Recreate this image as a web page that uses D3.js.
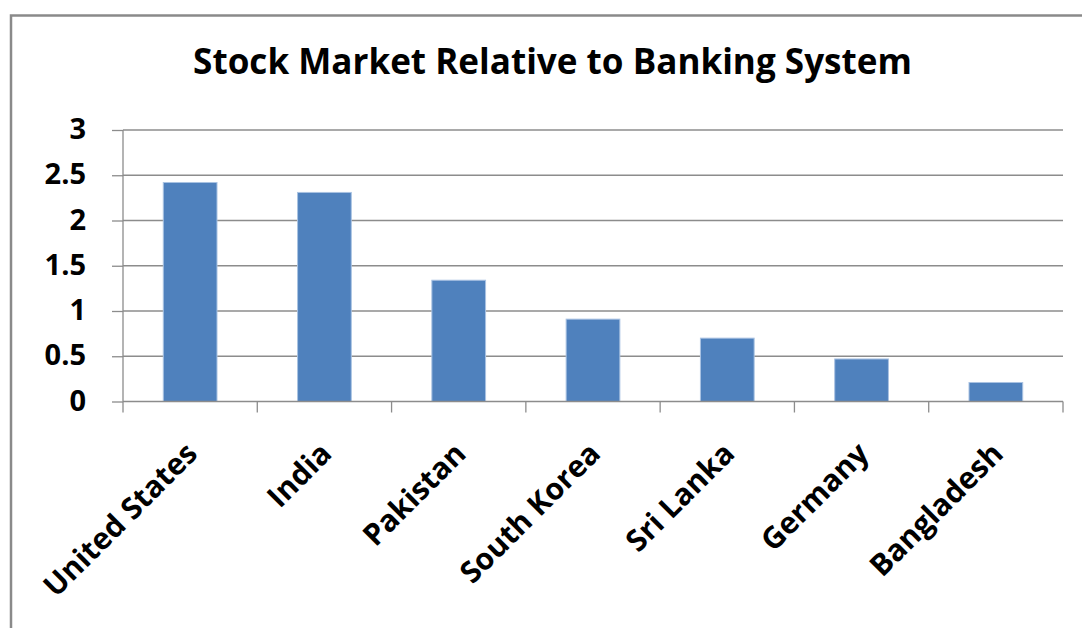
<!DOCTYPE html>
<html>
<head>
<meta charset="utf-8">
<script src="https://cdn.jsdelivr.net/npm/d3@7"></script>
<style>
  html, body { margin: 0; padding: 0; background: #fff; }
  svg { display: block; }
  text { font-family: "Open Sans", "DejaVu Sans", sans-serif; font-weight: bold; fill: #000; }
</style>
</head>
<body>
<svg id="chart" width="1082" height="628"></svg>
<script>
const title = "Stock Market Relative to Banking System";
const categories = ["United States", "India", "Pakistan", "South Korea", "Sri Lanka", "Germany", "Bangladesh"];
const values = [2.42, 2.31, 1.34, 0.91, 0.70, 0.47, 0.21];
const yTicks = [0, 0.5, 1, 1.5, 2, 2.5, 3];

const svg = d3.select("#chart");
const W = 1082, H = 628;
const margin = { left: 123, top: 130, right: 1082 - 1063, bottom: 628 - 401.5 };
const innerW = W - margin.left - margin.right;
const innerH = H - margin.top - margin.bottom;

// outer chart border
svg.append("rect")
  .attr("x", 11).attr("y", 15.5)
  .attr("width", 1100).attr("height", 700)
  .attr("fill", "#fff")
  .attr("stroke", "#8a8a8a")
  .attr("stroke-width", 2.5);

// title
const t = svg.append("text")
  .attr("x", 552.5).attr("y", 73.5)
  .attr("text-anchor", "middle")
  .style("font-size", "30px")
  .text(title);
const tw = t.node().getComputedTextLength();
t.style("font-size", (30 * 719 / tw) + "px");

const g = svg.append("g").attr("transform", `translate(${margin.left},${margin.top})`);

const x = d3.scaleBand().domain(categories).range([0, innerW]).paddingInner(0.6).paddingOuter(0.3);
const y = d3.scaleLinear().domain([0, 3]).range([innerH, 0]);

// gridlines
g.append("g").selectAll("line.grid").data(yTicks.filter(d => d > 0)).join("line")
  .attr("x1", 0).attr("x2", innerW)
  .attr("y1", d => y(d)).attr("y2", d => y(d))
  .attr("stroke", "#8c8c8c").attr("stroke-width", 1.3);

// bars
g.append("g").selectAll("rect").data(values).join("rect")
  .attr("x", (d, i) => x(categories[i]))
  .attr("y", d => y(d))
  .attr("width", x.bandwidth())
  .attr("height", d => innerH - y(d))
  .attr("fill", "#4f81bd")
  .attr("stroke", "#a9c2e2")
  .attr("stroke-width", 1);

// y axis
const yAxis = g.append("g").call(
  d3.axisLeft(y).tickValues(yTicks).tickFormat(d3.format("")).tickSize(11).tickPadding(26)
);
yAxis.select(".domain").attr("stroke", "#8c8c8c").attr("stroke-width", 1.3).attr("d", `M0,0V${innerH}`);
yAxis.selectAll(".tick line").attr("stroke", "#8c8c8c").attr("stroke-width", 1.3);
yAxis.selectAll(".tick text")
  .style("font-size", "29px")
  .style("font-family", "'Open Sans', sans-serif")
  .style("font-weight", "bold")
  .attr("fill", "#000")
  .attr("dy", "0.3em");

// x axis
const xTickScale = d3.scaleLinear().domain([0, categories.length]).range([0, innerW]);
const xAxisG = g.append("g").attr("transform", `translate(0,${innerH})`);
xAxisG.append("line").attr("x1", 0).attr("x2", innerW).attr("y1", 0).attr("y2", 0)
  .attr("stroke", "#8c8c8c").attr("stroke-width", 1.3);
xAxisG.selectAll("line.tk").data(d3.range(categories.length + 1)).join("line")
  .attr("class", "tk")
  .attr("x1", d => xTickScale(d)).attr("x2", d => xTickScale(d))
  .attr("y1", 0).attr("y2", 11)
  .attr("stroke", "#8c8c8c").attr("stroke-width", 1.3);

xAxisG.selectAll("text.lbl").data(categories).join("text")
  .attr("class", "lbl")
  .attr("text-anchor", "end")
  .style("font-size", "30px")
  .attr("transform", d => `translate(${x(d) + x.bandwidth() / 2 + 9},${54}) rotate(-45)`)
  .text(d => d);
</script>
</body>
</html>
